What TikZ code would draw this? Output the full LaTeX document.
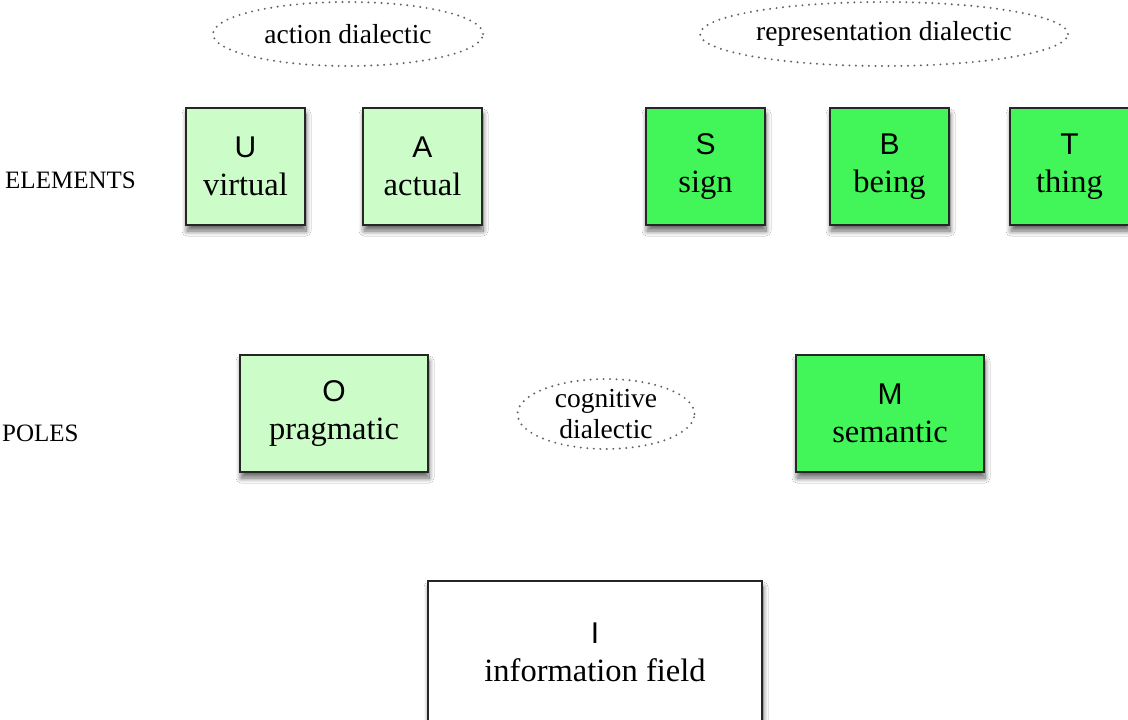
\documentclass[tikz,border=0pt]{standalone}
\usepackage{fontspec}
\setmainfont{Liberation Serif}
\setsansfont{Liberation Sans}
\usetikzlibrary{shapes.geometric,shadows.blur}
\definecolor{palegreen}{RGB}{204,252,200}
\definecolor{brightgreen}{RGB}{66,245,88}
\definecolor{dotgray}{RGB}{100,100,100}
\tikzset{
  card/.style={draw=black!85, line width=1.8pt, align=center, inner sep=0pt,
    blur shadow={shadow xshift=1pt, shadow yshift=-6pt, shadow blur steps=12,
      shadow blur radius=5pt, shadow opacity=60},
    font=\fontsize{32.5}{38}\selectfont},
  elem/.style={card, minimum width=119pt, minimum height=117pt},
  pole/.style={card, minimum width=188pt, minimum height=117pt},
  light/.style={fill=palegreen},
  strong/.style={fill=brightgreen},
  dialectic/.style={ellipse, draw=dotgray, line width=2.2pt, line cap=round,
    dash pattern=on 0pt off 6.5pt, inner sep=0pt, align=center,
    font=\fontsize{27.5}{31}\selectfont},
  rowlabel/.style={anchor=west, inner sep=0pt, font=\fontsize{25}{28}\selectfont}
}
\newcommand{\keyletter}[1]{{\sffamily\fontsize{30}{38}\selectfont #1}}
\begin{document}
\begin{tikzpicture}[x=1pt,y=-1pt]
  \useasboundingbox (0,0) rectangle (1128,720);
  \clip (0,0) rectangle (1128,720);
  \fill[white] (0,0) rectangle (1128,720);

  % dialectic labels
  \node[dialectic, minimum width=270pt, minimum height=64pt] (act) at (348,34) {action dialectic};
  \node[dialectic, minimum width=368pt, minimum height=64pt] (rep) at (884,34) {representation dialectic};
  \node[dialectic, minimum width=177pt, minimum height=68pt] (cog) at (606,414) {cognitive\\dialectic};

  % row labels
  \node[rowlabel] (elements) at (5,180) {ELEMENTS};
  \node[rowlabel] (poles) at (2,433) {POLES};

  % elements
  \node[elem, light] (U) at (245.5,166.5) {\keyletter{U}\\virtual};
  \node[elem, light] (A) at (422.5,166.5) {\keyletter{A}\\actual};
  \node[elem, strong] (S) at (705.5,166.5) {\keyletter{S}\\sign};
  \node[elem, strong] (B) at (889.5,166.5) {\keyletter{B}\\being};
  \node[elem, strong] (T) at (1069.5,166.5) {\keyletter{T}\\thing};

  % poles
  \node[pole, light] (O) at (334,413.5) {\keyletter{O}\\pragmatic};
  \node[pole, strong] (M) at (890,413.5) {\keyletter{M}\\semantic};

  % information field
  \node[card, fill=white, minimum width=334pt, minimum height=142pt] (I) at (595,652) {\keyletter{I}\\information field};
\end{tikzpicture}
\end{document}
